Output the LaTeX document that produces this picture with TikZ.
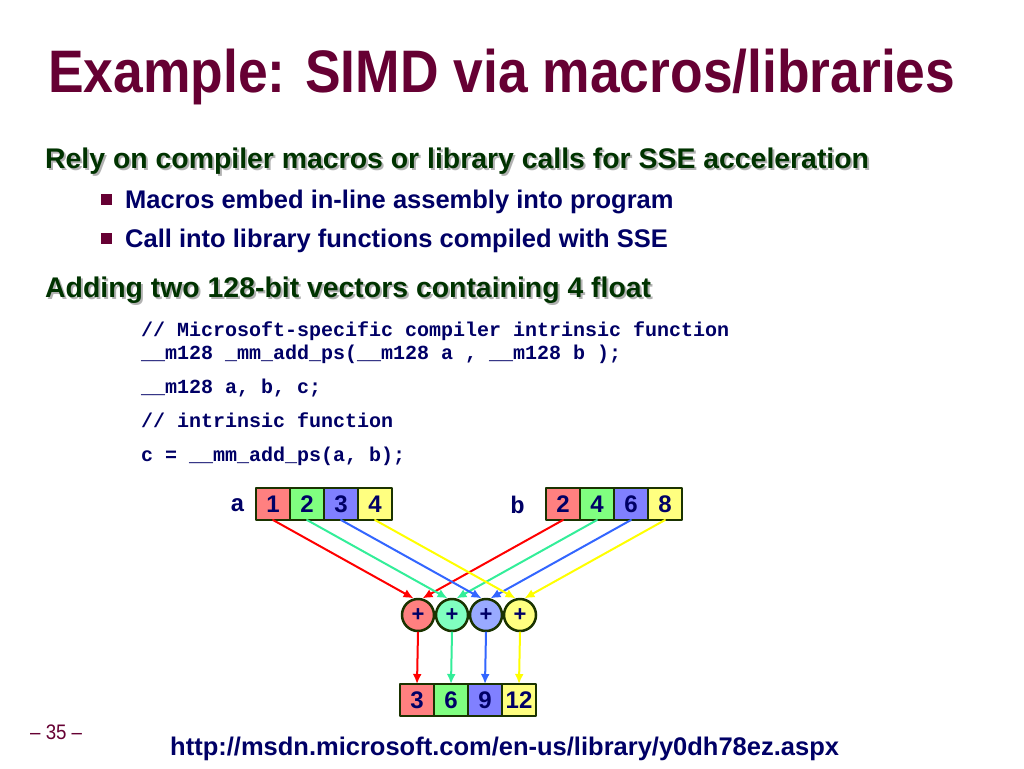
\documentclass[tikz,border=0pt]{standalone}
\usepackage{fontspec}
\setmainfont{Liberation Sans}
\newfontfamily\narrowfont[FakeStretch=0.89]{Liberation Sans}
\newfontfamily\codefont{Liberation Mono}
\usetikzlibrary{arrows.meta,calc,positioning}
\definecolor{slidemaroon}{RGB}{102,0,51}
\definecolor{slidegreen}{RGB}{0,51,0}
\definecolor{slidenavy}{RGB}{0,0,102}
\definecolor{cellline}{RGB}{26,51,0}
\definecolor{cellred}{RGB}{255,128,128}
\definecolor{cellgreen}{RGB}{128,255,128}
\definecolor{cellblue}{RGB}{128,128,255}
\definecolor{cellyellow}{RGB}{255,255,128}
\definecolor{summint}{RGB}{128,255,192}
\definecolor{sumblue}{RGB}{153,170,255}
\definecolor{arrred}{RGB}{255,0,0}
\definecolor{arrgreen}{RGB}{51,238,153}
\definecolor{arrblue}{RGB}{51,102,255}
\definecolor{arryellow}{RGB}{255,255,0}

\begin{document}
\begin{tikzpicture}[x=1pt,y=-1pt,>=Stealth,line cap=round,line join=round,
 cell/.style={draw=cellline,line width=2.5pt,outer sep=0pt,inner sep=0pt,
  minimum width=34pt,minimum height=32pt,text=slidenavy,
  font=\bfseries\fontsize{24}{24}\selectfont},
 sumnode/.style={circle,draw=cellline,line width=2.5pt,inner sep=0pt,
  minimum size=32pt,text=slidenavy,font=\bfseries\fontsize{22}{22}\selectfont},
 lane/.style={line width=2pt,-{Latex[length=10pt,width=9pt]}},
 codeline/.style={anchor=base west,inner sep=0pt,text=slidenavy,
  font=\codefont\bfseries\fontsize{20}{20}\selectfont},
 bullettext/.style={anchor=base west,inner sep=0pt,text=slidenavy,
  font=\bfseries\fontsize{25.5}{25.5}\selectfont},
 headtext/.style={anchor=base west,inner sep=0pt,
  font=\bfseries\fontsize{28.4}{28.4}\selectfont}]
 \useasboundingbox[fill=white] (0,0) rectangle (1024,768);
 % title and text
 \node[anchor=base west,inner sep=0pt,text=slidemaroon,
  font=\narrowfont\bfseries\fontsize{60}{60}\selectfont]
  (title) at (48,92) {Example: SIMD via macros/libraries};
 \node[headtext,text=black!30] (relyshadow) at (47,170)
  {Rely on compiler macros or library calls for SSE acceleration};
 \node[headtext,text=slidegreen] (rely) at (45,168)
  {Rely on compiler macros or library calls for SSE acceleration};
 \fill[slidemaroon] (101,194) rectangle (112,205);
 \node[bullettext] (macros) at (125,208) {Macros embed in-line assembly into program};
 \fill[slidemaroon] (101,233) rectangle (112,244);
 \node[bullettext] (calls) at (125,247) {Call into library functions compiled with SSE};
 \node[headtext,text=black!30] (addshadow) at (47,299)
  {Adding two 128-bit vectors containing 4 float};
 \node[headtext,text=slidegreen] (adding) at (45,297)
  {Adding two 128-bit vectors containing 4 float};
 % code
 \node[codeline] (code1) at (141,336) {// Microsoft-specific compiler intrinsic function};
 \node[codeline] (code2) at (141,359) {\_\_m128 \_mm\_add\_ps(\_\_m128 a , \_\_m128 b );};
 \node[codeline] (code3) at (141,393) {\_\_m128 a, b, c;};
 \node[codeline] (code4) at (141,427) {// intrinsic function};
 \node[codeline] (code5) at (141,461) {c = \_\_mm\_add\_ps(a, b);};
 % vectors
 \node[cell,fill=cellred] (a1) at (273,504) {1};
 \node[cell,fill=cellgreen,right=0pt of a1] (a2) {2};
 \node[cell,fill=cellblue,right=0pt of a2] (a3) {3};
 \node[cell,fill=cellyellow,right=0pt of a3] (a4) {4};
 \node[codeline,anchor=east,font=\codefont\bfseries\fontsize{24}{24}\selectfont]
  (alabel) at (245,505) {a};
 \node[cell,fill=cellred] (b1) at (563,504) {2};
 \node[cell,fill=cellgreen,right=0pt of b1] (b2) {4};
 \node[cell,fill=cellblue,right=0pt of b2] (b3) {6};
 \node[cell,fill=cellyellow,right=0pt of b3] (b4) {8};
 \node[codeline,anchor=east,font=\codefont\bfseries\fontsize{24}{24}\selectfont]
  (blabel) at (525,505) {b};
 \node[sumnode,fill=cellred] (p1) at (418,615) {+};
 \node[sumnode,fill=summint] (p2) at (452,615) {+};
 \node[sumnode,fill=sumblue] (p3) at (486,615) {+};
 \node[sumnode,fill=cellyellow] (p4) at (520,615) {+};
 \node[cell,fill=cellred] (c1) at (417,700) {3};
 \node[cell,fill=cellgreen,right=0pt of c1] (c2) {6};
 \node[cell,fill=cellblue,right=0pt of c2] (c3) {9};
 \node[cell,fill=cellyellow,right=0pt of c3] (c4) {12};
 % lanes
 \foreach \i/\col in {1/arrred,2/arrgreen,3/arrblue,4/arryellow}{
  \draw[lane,\col] (a\i.south) -- (p\i.105);
  \draw[lane,\col] (b\i.south) -- (p\i.75);
  \draw[lane,\col] (p\i.south) -- (c\i.north);
 }
 % footer
 \node[anchor=base west,inner sep=0pt,text=slidemaroon,
  font=\narrowfont\fontsize{21}{21}\selectfont] (page) at (30,739) {\textendash\ 35 \textendash};
 \node[anchor=base west,inner sep=0pt,text=slidenavy,
  font=\bfseries\fontsize{25.5}{25.5}\selectfont]
  (url) at (170,755) {http://msdn.microsoft.com/en-us/library/y0dh78ez.aspx};
\end{tikzpicture}
\end{document}
